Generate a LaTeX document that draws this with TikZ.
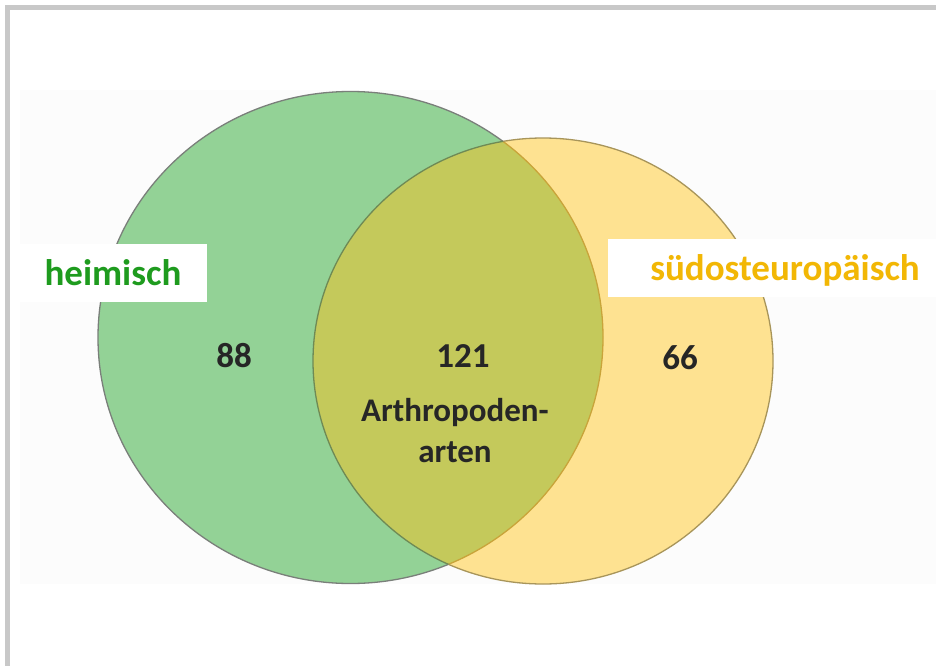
\documentclass[tikz,border=0pt]{standalone}
\usepackage{fontspec}
\setmainfont{Carlito}
\definecolor{frame}{HTML}{C8C8C8}
\definecolor{panel}{HTML}{FCFCFC}
\definecolor{gfill}{HTML}{93D296}
\definecolor{yfill}{HTML}{FEE291}
\definecolor{lfill}{HTML}{C4C95B}
\definecolor{gline}{HTML}{7A7F7A}
\definecolor{yline}{HTML}{A8955A}
\definecolor{ginner}{HTML}{C9A43A}
\definecolor{yinner}{HTML}{6E8A55}
\definecolor{gtext}{HTML}{1E9B1E}
\definecolor{ytext}{HTML}{F2B705}
\definecolor{ntext}{HTML}{262626}
\begin{document}
\begin{tikzpicture}[x=1pt,y=-1pt,
  numtxt/.style={font=\fontsize{35}{40}\selectfont\bfseries, text=ntext, inner sep=0pt},
  labbox/.style={fill=white, draw=none},
  labtxt/.style={font=\fontsize{37}{42}\selectfont\bfseries, inner sep=0pt},
  outl/.style={line width=1.3pt}]
\useasboundingbox (0,0) rectangle (936,666);
\fill[white] (0,0) rectangle (936,666);
% frame
\fill[frame] (5,5) rectangle (936,10);
\fill[frame] (5,5) rectangle (10,666);
% panel
\fill[panel] (20,90) rectangle (936,584);
% circles
\def\green{(350.5,337.5) ellipse [x radius=252.5pt, y radius=246pt]}
\def\yellow{(543,361) ellipse [x radius=230pt, y radius=223pt]}
\fill[gfill] \green;
\fill[yfill] \yellow;
\begin{scope}
  \clip \green;
  \fill[lfill] \yellow;
\end{scope}
% outlines
\begin{scope}[even odd rule]
  \clip (0,0) rectangle (936,666) \yellow;
  \draw[outl, gline] \green;
\end{scope}
\begin{scope}
  \clip \yellow;
  \draw[outl, ginner] \green;
\end{scope}
\begin{scope}[even odd rule]
  \clip (0,0) rectangle (936,666) \green;
  \draw[outl, yline] \yellow;
\end{scope}
\begin{scope}
  \clip \green;
  \draw[outl, yinner] \yellow;
\end{scope}
% label boxes
\fill[labbox] (20,244) rectangle (207,302);
\fill[labbox] (608,239) rectangle (936,297);
\node[labtxt, text=gtext] (heim) at (113,273) {heimisch};
\node[labtxt, text=ytext] (sued) at (785,270) {südosteuropäisch};
% numbers
\node[numtxt] (n88) at (234,356) {88};
\node[numtxt] (n121) at (463,356) {121};
\node[numtxt] (n66) at (680,358) {66};
\node[numtxt, font=\fontsize{33}{41}\selectfont\bfseries, align=center] (arth) at (455,431) {Arthropoden-\\arten};
\end{tikzpicture}
\end{document}
